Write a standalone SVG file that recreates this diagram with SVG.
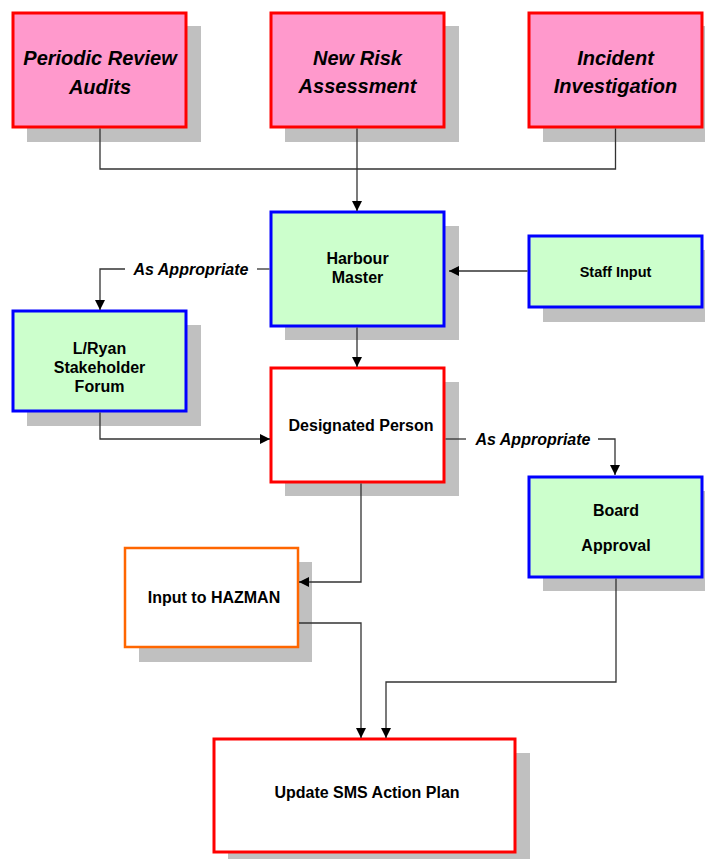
<svg xmlns="http://www.w3.org/2000/svg" width="705" height="859" viewBox="0 0 705 859">
<style>
.sh{fill:#C0C0C0}
.pink{fill:#FF99CC;stroke:#FF0000;stroke-width:3}
.green{fill:#CCFFCC;stroke:#0000FF;stroke-width:3}
.white{fill:#FFFFFF;stroke:#FF0000;stroke-width:3}
.orange{fill:#FFFFFF;stroke:#FF6600;stroke-width:2.5}
.t1{font-family:"Liberation Sans",Arial,sans-serif;font-weight:bold;font-style:italic;font-size:20px;text-anchor:middle;fill:#000}
.t2{font-family:"Liberation Sans",Arial,sans-serif;font-weight:bold;font-size:16px;text-anchor:middle;fill:#000}
.t3{font-family:"Liberation Sans",Arial,sans-serif;font-weight:bold;font-size:14.5px;text-anchor:middle;fill:#000}
.lbl{font-family:"Liberation Sans",Arial,sans-serif;font-weight:bold;font-style:italic;font-size:16px;text-anchor:middle;fill:#000}
.ln{fill:none;stroke:#333333;stroke-width:1.3}
</style>
<defs>
<marker id="ah" viewBox="0 0 10 10" refX="10" refY="5" markerWidth="10" markerHeight="10" markerUnits="userSpaceOnUse" orient="auto">
<path d="M0,0 L10,5 L0,10 Z" fill="#000"/>
</marker>
</defs>
<g id="periodic">
<rect class="sh" x="27" y="26" width="174" height="116"/>
<rect class="pink" x="13" y="13" width="173" height="114"/>
<text class="t1" x="100" y="65">Periodic Review</text>
<text class="t1" x="100" y="94">Audits</text>
</g>
<g id="newrisk">
<rect class="sh" x="285" y="26" width="174" height="116"/>
<rect class="pink" x="271" y="13" width="173" height="114"/>
<text class="t1" x="357.5" y="65">New Risk</text>
<text class="t1" x="357.5" y="93">Assessment</text>
</g>
<g id="incident">
<rect class="sh" x="543" y="26" width="174" height="116"/>
<rect class="pink" x="529" y="13" width="173" height="114"/>
<text class="t1" x="615.5" y="65">Incident</text>
<text class="t1" x="615.5" y="93">Investigation</text>
</g>
<g id="harbour">
<rect class="sh" x="285" y="226" width="174" height="114"/>
<rect class="green" x="271" y="212" width="173" height="114"/>
<text class="t2" x="357.5" y="264">Harbour</text>
<text class="t2" x="357.5" y="283">Master</text>
</g>
<g id="staff">
<rect class="sh" x="543" y="250" width="174" height="72"/>
<rect class="green" x="529" y="236" width="173" height="71"/>
<text class="t3" x="615.5" y="277">Staff Input</text>
</g>
<g id="lryan">
<rect class="sh" x="27" y="325" width="174" height="101"/>
<rect class="green" x="13" y="311" width="173" height="100"/>
<text class="t2" x="99.5" y="354">L/Ryan</text>
<text class="t2" x="99.5" y="373">Stakeholder</text>
<text class="t2" x="99.5" y="392">Forum</text>
</g>
<g id="designated">
<rect class="sh" x="285" y="382" width="174" height="114"/>
<rect class="white" x="271" y="368" width="173" height="114"/>
<text class="t2" x="361" y="431">Designated Person</text>
</g>
<g id="board">
<rect class="sh" x="543" y="491" width="174" height="100"/>
<rect class="green" x="529" y="477" width="173" height="100"/>
<text class="t2" x="616" y="516">Board</text>
<text class="t2" x="616" y="551">Approval</text>
</g>
<g id="hazman">
<rect class="sh" x="139" y="562" width="173" height="100"/>
<rect class="orange" x="125" y="548" width="173" height="99"/>
<text class="t2" x="214" y="603">Input to HAZMAN</text>
</g>
<g id="update">
<rect class="sh" x="228" y="753" width="302" height="106"/>
<rect class="white" x="214" y="739" width="301" height="113"/>
<text class="t2" x="367" y="798">Update SMS Action Plan</text>
</g>
<g id="connectors">
<path class="ln" d="M100,128.5 V169 H615.5 V128.5"/>
<path class="ln" d="M357,128.5 V211" marker-end="url(#ah)"/>
<path class="ln" d="M269.5,269 H257"/>
<path class="ln" d="M125,269 H100 V310" marker-end="url(#ah)"/>
<path class="ln" d="M527.5,271 H449" marker-end="url(#ah)"/>
<path class="ln" d="M357,327.5 V367" marker-end="url(#ah)"/>
<path class="ln" d="M100,412.5 V439 H270" marker-end="url(#ah)"/>
<path class="ln" d="M445.5,439 H466"/>
<path class="ln" d="M598,439 H615 V475" marker-end="url(#ah)"/>
<path class="ln" d="M361,483.5 V582 H299" marker-end="url(#ah)"/>
<path class="ln" d="M299,623 H361 V738" marker-end="url(#ah)"/>
<path class="ln" d="M616,578.5 V682 H386 V738" marker-end="url(#ah)"/>
<text class="lbl" x="191" y="275">As Appropriate</text>
<text class="lbl" x="533" y="445">As Appropriate</text>
</g>
</svg>
